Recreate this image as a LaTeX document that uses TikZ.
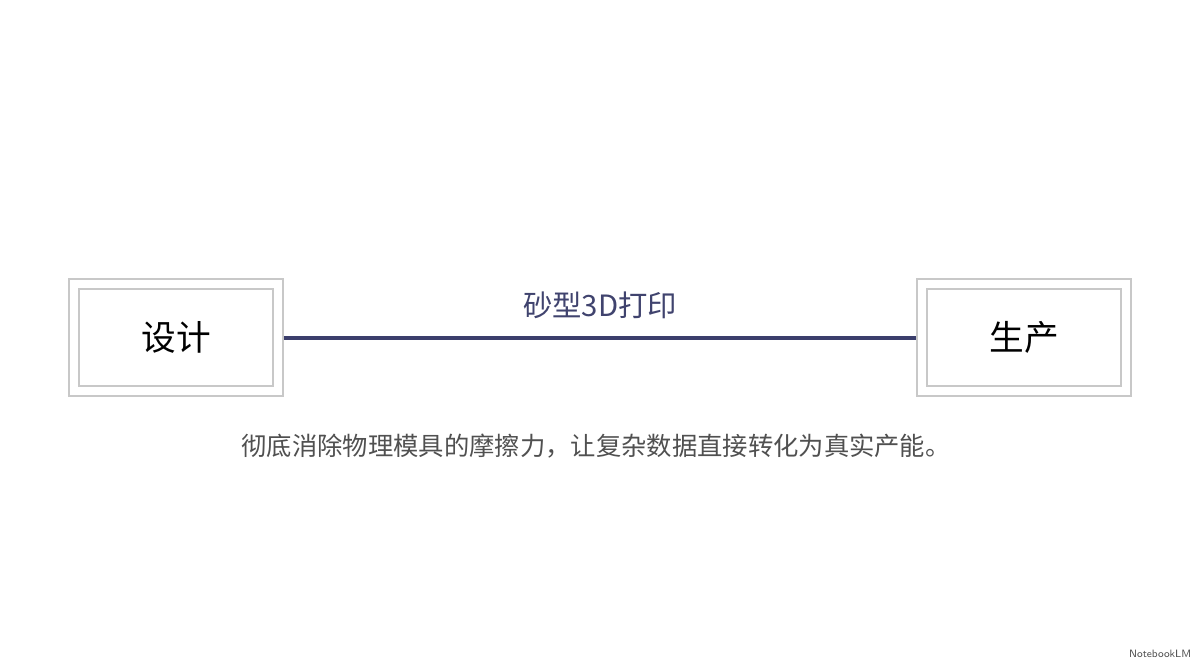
\documentclass[tikz,border=0pt]{standalone}
\usepackage{fontspec}
\usepackage{xcolor}
\setmainfont{Noto Sans CJK SC}
\newfontfamily\cjk{Noto Sans CJK SC}
\definecolor{boxstroke}{HTML}{C8C8C8}
\definecolor{linkline}{HTML}{3B3E6C}
\definecolor{labeltxt}{HTML}{40436E}
\definecolor{notetxt}{HTML}{505050}

\begin{document}
\begin{tikzpicture}[
  x=0.75pt, y=-0.75pt,
  font=\cjk,
  box/.style={
    draw=boxstroke,
    line width=1.1pt,
    double=white,
    double distance=6.4pt,
    minimum width=153pt,
    minimum height=80pt,
    inner sep=0pt,
    font=\cjk\fontsize{26}{30}\selectfont,
    text=black
  },
  link/.style={draw=linkline, line width=3pt, shorten <=3.8pt, shorten >=3.8pt},
  tag/.style={font=\cjk\fontsize{22}{26}\selectfont, text=labeltxt},
  note/.style={font=\cjk\fontsize{19}{23}\selectfont, text=notetxt}
]
  \useasboundingbox[fill=white] (0,0) rectangle (1200,662);

  % Two stages
  \node[box] (design) at (176,337.5) {设计};
  \node[box] (produce) at (1024,337.5) {生产};

  % Connecting process
  \draw[link] (design.east) -- (produce.west)
    node[tag, midway, above=9pt] (process) {砂型3D打印};

  % Caption
  \node[note] (caption) at (596,446) {彻底消除物理模具的摩擦力，让复杂数据直接转化为真实产能。};

  % Watermark
  \node[font=\sffamily\fontsize{8}{9}\selectfont, text=notetxt, anchor=east] (mark) at (1196,654) {NotebookLM};
\end{tikzpicture}
\end{document}
